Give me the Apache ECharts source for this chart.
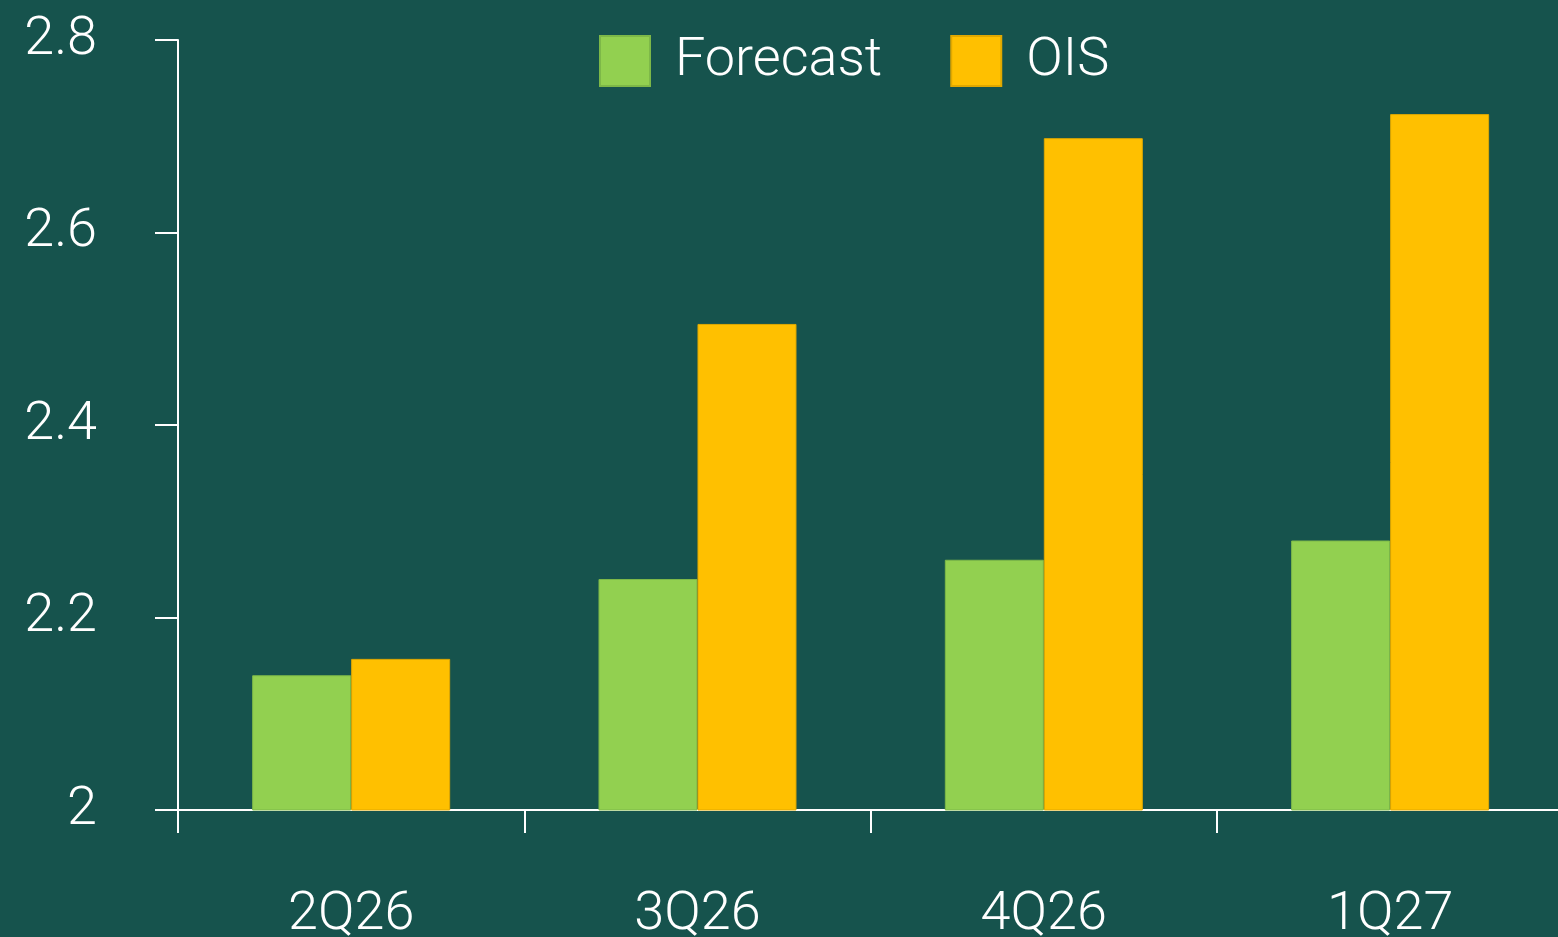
<!DOCTYPE html>
<html>
<head>
<meta charset="utf-8">
<script src="https://cdn.jsdelivr.net/npm/echarts@6/dist/echarts.min.js"></script>
<style>
html,body{margin:0;padding:0;background:#16534D;}
#chart{width:1558px;height:937px;}
</style>
</head>
<body>
<div id="chart"></div>
<script>
const categories = ['2Q26', '3Q26', '4Q26', '1Q27'];
const forecast = [2.14, 2.24, 2.26, 2.28];
const ois = [2.157, 2.505, 2.698, 2.723];
const yTicks = { min: 2, max: 2.8, interval: 0.2 };

const FONT = 'Roboto';
const chart = echarts.init(document.getElementById('chart'));
chart.setOption({
  backgroundColor: '#16534D',
  animation: false,
  legend: {
    top: 34,
    left: 599,
    padding: 0,
    itemWidth: 50,
    itemHeight: 50,
    itemGap: 68,
    icon: 'rect',
    textStyle: { color: '#ffffff', fontSize: 54, fontFamily: FONT, fontWeight: 300, padding: [0, 0, 0, 20] },
    data: ['Forecast', 'OIS']
  },
  grid: { left: 178, top: 40, height: 770, width: 1385.3, containLabel: false, outerBoundsMode: 'none' },
  xAxis: {
    type: 'category',
    data: categories,
    axisLine: { lineStyle: { color: '#ffffff', width: 2 } },
    axisTick: { show: true, length: 23, lineStyle: { color: '#ffffff', width: 2 } },
    axisLabel: { color: '#ffffff', fontSize: 54, fontFamily: FONT, fontWeight: 300, margin: 78 }
  },
  yAxis: {
    type: 'value',
    min: yTicks.min, max: yTicks.max, interval: yTicks.interval,
    axisLine: { show: true, lineStyle: { color: '#ffffff', width: 2 } },
    axisTick: { show: true, length: 23, lineStyle: { color: '#ffffff', width: 2 } },
    splitLine: { show: false },
    axisLabel: {
      color: '#ffffff', fontSize: 54, fontFamily: FONT, fontWeight: 300, margin: 81,
      padding: [0, 0, 12, 0],
      formatter: v => String(Math.round(v * 10) / 10)
    }
  },
  series: [
    { name: 'Forecast', type: 'bar', data: forecast, barWidth: 99, barGap: 0,
      itemStyle: { color: '#92D050', borderColor: '#7DB848', borderWidth: 1 } },
    { name: 'OIS', type: 'bar', data: ois, barWidth: 99, barGap: 0,
      itemStyle: { color: '#FFC000', borderColor: '#E0A800', borderWidth: 1 } }
  ]
});
</script>
</body>
</html>
